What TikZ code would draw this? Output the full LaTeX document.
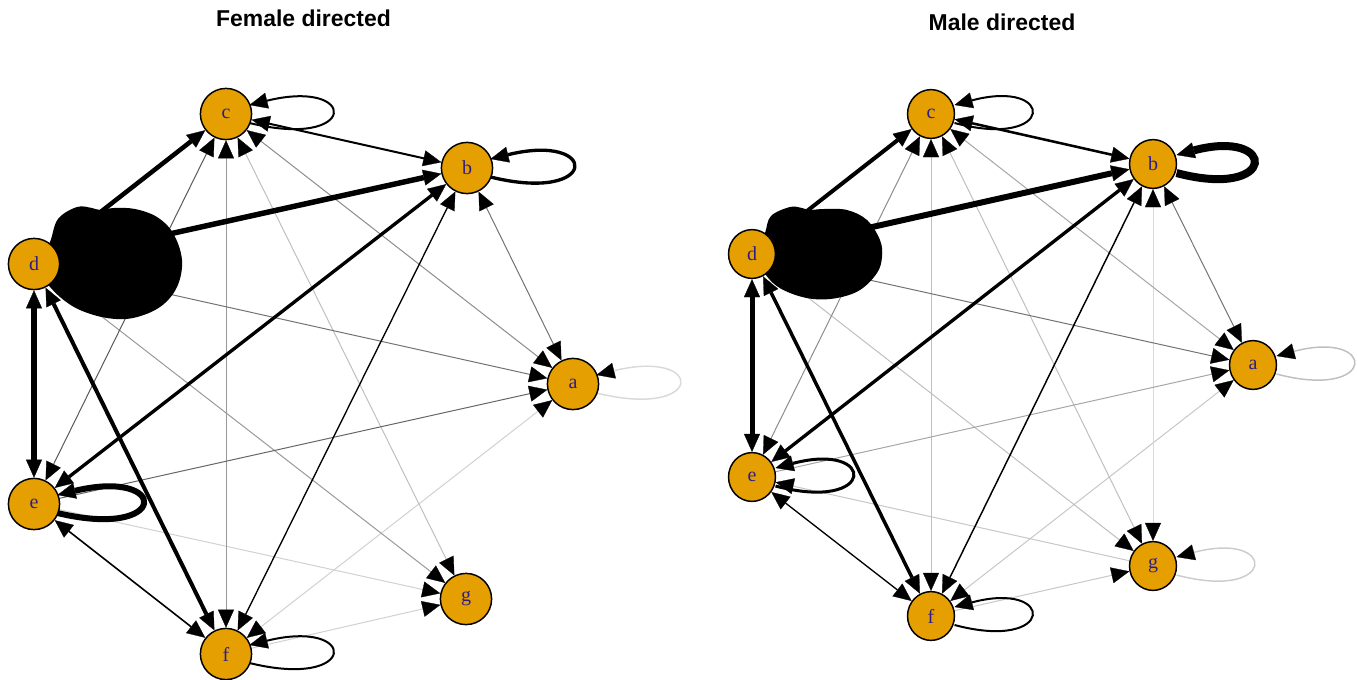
\documentclass[tikz,border=0pt]{standalone}
\usepackage{fontspec}
\setmainfont{Liberation Serif}
\newfontfamily\headfont{Liberation Sans}
\usetikzlibrary{arrows.meta,calc,shapes.geometric}
\pgfdeclarelayer{edges}
\pgfsetlayers{edges,main}
\definecolor{vfill}{HTML}{E69F00}
\definecolor{vtext}{RGB}{45,30,135}
% self-loop leaving a vertex to the right and returning with a tip
\newcommand\selfloop[3][]{%
  \draw[#1] ($(#2)+(23.5,9)$) .. controls ($(#2)+(#3,36)$) and ($(#2)+(#3,-36)$) .. ($(#2)+(23.5,-9)$);}
\begin{document}
\begin{tikzpicture}[x=0.75pt,y=-0.75pt,
  >={Triangle[length=13.5pt,width=12pt,color=black,line width=0.2pt]},
  vtx/.style={circle,draw=black,line width=1.1pt,fill=vfill,inner sep=0pt,
    minimum size=38.4pt,text=vtext,font=\fontsize{15}{15}\selectfont},
  vtxm/.style={ellipse,draw=black,line width=1.1pt,fill=vfill,inner sep=0pt,
    minimum width=35.2pt,minimum height=36.6pt,text=vtext,font=\fontsize{15}{15}\selectfont},
  heading/.style={font=\headfont\bfseries\fontsize{17.2}{17.2}\selectfont,anchor=base,inner sep=0pt},
  thin/.style={line width=0.75pt,draw=#1},
  blob/.style={fill=black}]
\useasboundingbox (0,0) rectangle (1357,679);

\node[heading] (tF) at (303.5,26.7) {Female directed};
\node[heading] (tM) at (1002,30.7) {Male directed};

% ---------------- female network ----------------
\node[vtx] (Lc) at (226,114) {c};
\node[vtx] (Lb) at (467,168) {b};
\node[vtx] (La) at (573,384) {a};
\node[vtx] (Lg) at (466,599) {g};
\node[vtx] (Lf) at (226,654) {f};
\node[vtx] (Le) at (34,504) {e};
\node[vtx] (Ld) at (34,264) {d};

% ---------------- male network ----------------
\node[vtxm] (Rc) at (931,114) {c};
\node[vtxm] (Rb) at (1153,164) {b};
\node[vtxm] (Ra) at (1253,365) {a};
\node[vtxm] (Rg) at (1153,566) {g};
\node[vtxm] (Rf) at (931,616) {f};
\node[vtxm] (Re) at (752,477) {e};
\node[vtxm] (Rd) at (752,254) {d};

\begin{pgfonlayer}{edges}
% female edges
\draw[thin=black!18,->] (Le) -- (Lg);
\draw[thin=black!18,->] (Lf) -- (Lg);
\draw[thin=black!18,<->] (Lf) -- (La);
\draw[thin=black!25,<->] (Lc) -- (Lg);
\draw[thin=black!40,->] (Ld) -- (Lg);
\draw[thin=black!40,<->] (Lc) -- (Lf);
\draw[thin=black!45,<->] (Lc) -- (La);
\draw[thin=black!55,->] (Ld) -- (La);
\draw[thin=black!60,->] (Le) -- (La);
\draw[thin=black!55,<->] (Lb) -- (La);
\draw[thin=black!65,<->] (Lc) -- (Le);
\draw[line width=3.4pt,->] (Ld) -- (Lc);
\draw[line width=4.1pt,->] (Ld) -- (Lb);
\draw[line width=1.5pt,<->] (Lc) -- (Lb);
\draw[line width=2.5pt,<->] (Lb) -- (Le);
\draw[line width=1pt,<->] (Lb) -- (Lf);
\draw[line width=1.2pt,<->] (Le) -- (Lf);
\selfloop[->,line width=1.5pt]{Lc}{133}
\selfloop[->,line width=2.5pt]{Lb}{133}
\selfloop[->,line width=1.1pt,draw=black!15]{La}{133}
\selfloop[->,line width=4.5pt]{Le}{136}
\selfloop[->,line width=1.5pt]{Lf}{133}
% heavy self-loop of d
\begin{scope}[shift={(Ld)}]
\fill[blob] plot[smooth cycle,tension=0.6] coordinates {(16,-22) (24,-45) (43,-57) (58,-56) (66,-54)
  (80,-56) (101,-55) (123,-47) (139,-31) (148,-4) (143,23) (126,43) (99,54) (73,54) (46,46)
  (26,33) (10,15) (5,0)};
\end{scope}
\draw[line width=4.9pt,<->] (Ld) -- (Le);
\draw[line width=3pt,<->] (Ld) -- (Lf);

% male edges
\draw[thin=black!22,<-] (Re) -- (Rg);
\draw[thin=black!22,->] (Rf) -- (Rg);
\draw[thin=black!22,<->] (Rf) -- (Ra);
\draw[thin=black!15,<->] (Rb) -- (Rg);
\draw[thin=black!25,<->] (Rc) -- (Rg);
\draw[thin=black!25,->] (Rd) -- (Rg);
\draw[thin=black!25,<->] (Rc) -- (Rf);
\draw[thin=black!35,<->] (Rc) -- (Ra);
\draw[thin=black!35,->] (Re) -- (Ra);
\draw[thin=black!55,->] (Rd) -- (Ra);
\draw[thin=black!55,<->] (Rb) -- (Ra);
\draw[thin=black!45,<->] (Rc) -- (Re);
\draw[line width=3pt,->] (Rd) -- (Rc);
\draw[line width=4.5pt,->] (Rd) -- (Rb);
\draw[line width=1.9pt,<->] (Rc) -- (Rb);
\draw[line width=2.5pt,<->] (Rb) -- (Re);
\draw[line width=1.1pt,<->] (Rb) -- (Rf);
\draw[line width=1pt,<->] (Re) -- (Rf);
\selfloop[->,line width=1.5pt]{Rc}{125}
\selfloop[->,line width=6pt]{Rb}{125}
\selfloop[->,line width=1.1pt,draw=black!25]{Ra}{125}
\selfloop[->,line width=1.1pt,draw=black!20]{Rg}{125}
\selfloop[->,line width=2.25pt]{Re}{125}
\selfloop[->,line width=1.5pt]{Rf}{125}
\begin{scope}[shift={(Rd)}]
\fill[blob] plot[smooth cycle,tension=0.6] coordinates {(13,-21) (19,-38) (38,-47) (50,-46) (57,-44)
  (72,-45) (95,-44) (115,-34) (128,-14) (130,3) (125,19) (108,36) (85,44) (61,45) (38,39)
  (21,29) (8,12) (5,0)};
\end{scope}
\draw[line width=3.75pt,<->] (Rd) -- (Re);
\draw[line width=2.6pt,<->] (Rd) -- (Rf);
\end{pgfonlayer}
\end{tikzpicture}
\end{document}
